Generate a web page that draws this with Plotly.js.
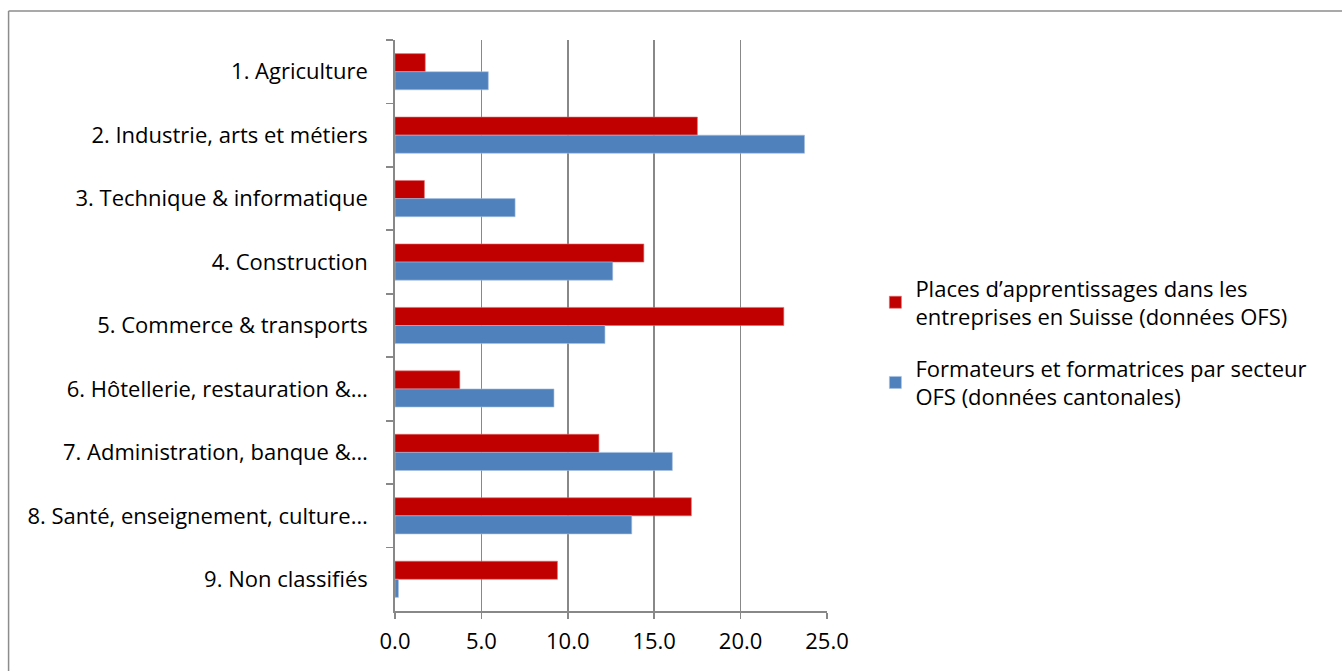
<!DOCTYPE html>
<html>
<head>
<meta charset="utf-8">
<script src="https://cdn.plot.ly/plotly-3.0.1.min.js"></script>
<style>
html,body{margin:0;padding:0;background:#fff;}
#chart{width:1342px;height:671px;}
</style>
</head>
<body>
<div id="chart"></div>
<script>
const categories = [
  "1. Agriculture",
  "2. Industrie, arts et métiers",
  "3. Technique & informatique",
  "4. Construction",
  "5. Commerce & transports",
  "6. Hôtellerie, restauration &…",
  "7. Administration, banque &…",
  "8. Santé, enseignement, culture…",
  "9. Non classifiés"
];
const placesOFS = [1.75, 17.5, 1.7, 14.4, 22.5, 3.75, 11.8, 17.15, 9.4];
const formateursOFS = [5.4, 23.7, 6.95, 12.6, 12.15, 9.2, 16.05, 13.7, 0.2];
const seriesNames = [
  "Places d’apprentissages dans les<br>entreprises en Suisse (données OFS)",
  "Formateurs et formatrices par secteur<br>OFS (données cantonales)"
];
const xTicks = [0, 5, 10, 15, 20, 25];

const FONT = "'Open Sans', Lato, sans-serif";
const FS = 22;
const grid = "#888888";

const traces = [
  {
    type: "bar", orientation: "h",
    y: categories, x: placesOFS, name: seriesNames[0],
    legendgroup: "a",
    marker: {color: "#C00000", line: {color: "#e06666", width: 0.6}},
    hoverinfo: "x+y"
  },
  {
    type: "bar", orientation: "h",
    y: categories, x: formateursOFS, name: seriesNames[1],
    legendgroup: "b",
    marker: {color: "#4F81BD", line: {color: "#a8c0e0", width: 0.6}},
    hoverinfo: "x+y"
  }
];

const layout = {
  width: 1342, height: 671,
  margin: {l: 395, r: 515, t: 40, b: 60},
  paper_bgcolor: "#ffffff", plot_bgcolor: "#ffffff",
  font: {family: FONT, size: FS, color: "#000"},
  barmode: "group",
  bargap: 0.43, bargroupgap: 0,
  showlegend: true,
  legend: {
    x: 1.112, xanchor: "left", y: 0.47, yanchor: "middle",
    font: {family: FONT, size: FS, color: "#000"},
    tracegroupgap: 20, traceorder: "grouped",
    bgcolor: "rgba(0,0,0,0)"
  },
  xaxis: {
    range: [0, 25], tickvals: xTicks, tickformat: ".1f",
    showgrid: true, gridcolor: grid, gridwidth: 1.8,
    showline: true, linecolor: grid, linewidth: 1.8,
    ticks: "outside", ticklen: 6, tickcolor: grid, tickwidth: 1.8,
    ticklabelstandoff: 4,
    zeroline: false, fixedrange: true,
    tickfont: {family: FONT, size: FS, color: "#000"}
  },
  yaxis: {
    type: "category", autorange: "reversed",
    showgrid: false, zeroline: false,
    showline: true, linecolor: grid, linewidth: 1.8,
    ticks: "outside", ticklen: 7, tickcolor: grid, tickwidth: 1.8,
    tickson: "boundaries",
    ticklabelstandoff: 21,
    fixedrange: true,
    tickfont: {family: FONT, size: FS, color: "#000"}
  },
  shapes: [
    {type: "line", xref: "paper", yref: "paper", x0: -0.8945, x1: 2.3, y0: 1.0508, y1: 1.0508,
     line: {color: "#8c8c8c", width: 1.5}},
    {type: "line", xref: "paper", yref: "paper", x0: -0.8945, x1: -0.8945, y0: 1.0508, y1: -0.2,
     line: {color: "#8c8c8c", width: 1.5}}
  ]
};

Plotly.newPlot("chart", traces, layout, {displayModeBar: false, staticPlot: true});
</script>
</body>
</html>
